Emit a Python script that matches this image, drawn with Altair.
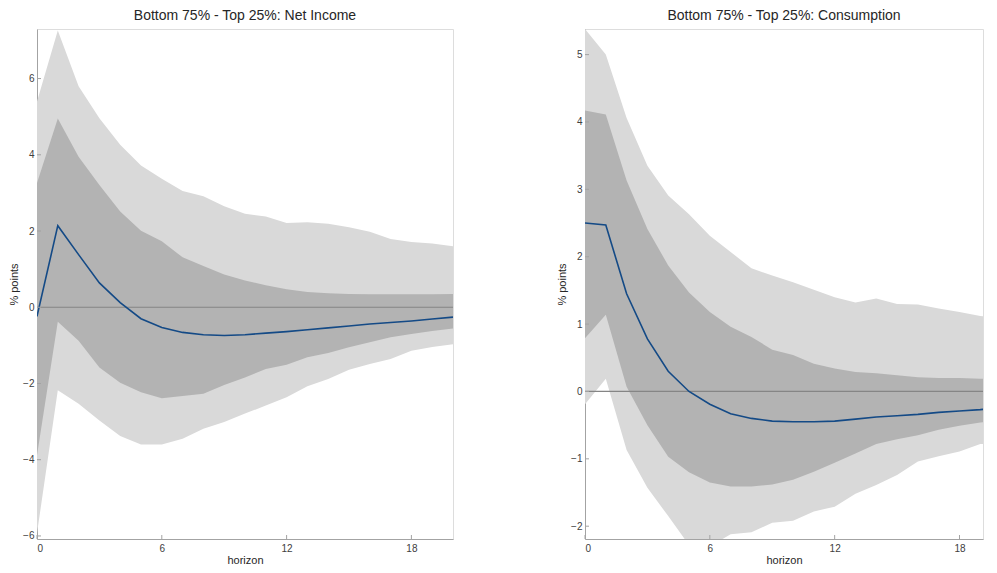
import altair as alt
import pandas as pd

# ---------------- data ----------------
horizon = list(range(0, 21))

# Net Income panel
ni_median = [-0.24, 2.14, 1.38, 0.64, 0.12, -0.30, -0.53, -0.66, -0.72, -0.74, -0.72,
             -0.68, -0.64, -0.59, -0.54, -0.49, -0.44, -0.40, -0.36, -0.31, -0.26]
ni_hi68 = [3.26, 4.95, 3.95, 3.21, 2.51, 2.01, 1.73, 1.31, 1.08, 0.86, 0.70,
           0.58, 0.47, 0.40, 0.37, 0.35, 0.34, 0.34, 0.34, 0.34, 0.35]
ni_lo68 = [-3.88, -0.38, -0.88, -1.58, -1.98, -2.23, -2.39, -2.33, -2.27, -2.04, -1.84,
           -1.62, -1.51, -1.31, -1.20, -1.05, -0.92, -0.79, -0.70, -0.62, -0.56]
ni_hi90 = [5.40, 7.26, 5.80, 4.96, 4.26, 3.72, 3.37, 3.05, 2.91, 2.65, 2.45,
           2.38, 2.21, 2.23, 2.19, 2.10, 1.98, 1.79, 1.71, 1.67, 1.60]
ni_lo90 = [-5.93, -2.18, -2.53, -2.97, -3.38, -3.60, -3.60, -3.45, -3.19, -3.01, -2.79,
           -2.58, -2.36, -2.07, -1.88, -1.64, -1.49, -1.36, -1.14, -1.04, -0.97]

# Consumption panel
c_median = [2.50, 2.47, 1.45, 0.78, 0.30, 0.00, -0.19, -0.33, -0.40, -0.44, -0.45,
            -0.45, -0.44, -0.41, -0.38, -0.36, -0.34, -0.31, -0.29, -0.27, -0.24]
c_hi68 = [4.17, 4.11, 3.13, 2.41, 1.87, 1.47, 1.18, 0.96, 0.81, 0.62, 0.54,
          0.41, 0.34, 0.29, 0.27, 0.24, 0.21, 0.20, 0.20, 0.19, 0.19]
c_lo68 = [0.79, 1.14, 0.07, -0.50, -0.97, -1.20, -1.35, -1.41, -1.41, -1.38, -1.31,
          -1.19, -1.06, -0.92, -0.78, -0.71, -0.65, -0.57, -0.51, -0.46, -0.44]
c_hi90 = [5.38, 5.00, 4.06, 3.35, 2.91, 2.63, 2.31, 2.07, 1.83, 1.72, 1.62,
          1.51, 1.40, 1.32, 1.38, 1.30, 1.29, 1.23, 1.18, 1.12, 1.08]
c_lo90 = [-0.19, 0.19, -0.87, -1.43, -1.85, -2.28, -2.30, -2.12, -2.09, -1.95, -1.92,
          -1.78, -1.71, -1.52, -1.39, -1.24, -1.04, -0.96, -0.89, -0.78, -0.77]

titles = ["Bottom 75% - Top 25%: Net Income", "Bottom 75% - Top 25%: Consumption"]
x_ticks = [0, 6, 12, 18]
ni_y_ticks = [-6, -4, -2, 0, 2, 4, 6]
c_y_ticks = [-2, -1, 0, 1, 2, 3, 4, 5]

FONT = "Liberation Sans"
LIGHT = "#d9d9d9"
DARK = "#b3b3b3"
LINE = "#144a86"
AXIS = "#a3a3a3"
H = 510


def panel(title, med, lo68, hi68, lo90, hi90, ydom, yticks, xdom, width):
    df = pd.DataFrame({"h": horizon, "med": med, "lo68": lo68, "hi68": hi68,
                       "lo90": lo90, "hi90": hi90, "zero": [0.0] * len(horizon)})
    xs = alt.Scale(domain=xdom, nice=False, zero=False)
    ys = alt.Scale(domain=ydom, nice=False, zero=False)
    xax = alt.Axis(values=x_ticks, title="horizon", ticks=False, grid=False, format="d",
                   labelPadding=4, titlePadding=1, labelFontSize=10, titleFontSize=11,
                   labelColor="#404040", titleColor="#262626", domainColor=AXIS,
                   labelFont=FONT, titleFont=FONT, titleFontWeight="normal")
    yax = alt.Axis(values=yticks, title="% points", ticks=False, grid=False, format="d",
                   labelPadding=3, titlePadding=3, labelFontSize=10, titleFontSize=11,
                   labelColor="#404040", titleColor="#262626", domainColor=AXIS,
                   labelFont=FONT, titleFont=FONT, titleFontWeight="normal")
    base = alt.Chart(df)
    outer = base.mark_area(color=LIGHT, opacity=1, clip=True).encode(
        x=alt.X("h:Q", scale=xs, axis=xax), y=alt.Y("lo90:Q", scale=ys, axis=yax),
        y2="hi90:Q")
    inner = base.mark_area(color=DARK, opacity=1, clip=True).encode(
        x=alt.X("h:Q", scale=xs), y=alt.Y("lo68:Q", scale=ys), y2="hi68:Q")
    zero = base.mark_line(color="#858585", strokeWidth=1.2, clip=True).encode(
        x=alt.X("h:Q", scale=xs), y=alt.Y("zero:Q", scale=ys))
    line = base.mark_line(color=LINE, strokeWidth=1.6, clip=True).encode(
        x=alt.X("h:Q", scale=xs), y=alt.Y("med:Q", scale=ys))
    ytk = alt.Chart(pd.DataFrame({"v": yticks})).mark_rule(color=AXIS, strokeWidth=1).encode(
        y=alt.Y("v:Q", scale=ys), x=alt.value(0), x2=alt.value(4))
    xtk = alt.Chart(pd.DataFrame({"v": x_ticks})).mark_rule(color=AXIS, strokeWidth=1).encode(
        x=alt.X("v:Q", scale=xs), y=alt.value(H), y2=alt.value(H - 4))
    return alt.layer(outer, inner, zero, line, ytk, xtk).properties(
        width=width, height=H,
        title=alt.TitleParams(title, fontSize=14, font=FONT, fontWeight="normal",
                              color="#262626", offset=6, anchor="middle"))


left = panel(titles[0], ni_median, ni_lo68, ni_hi68, ni_lo90, ni_hi90,
             [-6.08, 7.3], ni_y_ticks, [0, 20], 416)
right = panel(titles[1], c_median, c_lo68, c_hi68, c_lo90, c_hi90,
              [-2.19, 5.38], c_y_ticks, [0, 19.13], 398)

chart = alt.hconcat(left, right, spacing=132, bounds="flush").properties(
    padding={"left": 0, "top": 0, "right": 0, "bottom": 0}
).configure_view(stroke=None).configure(background="white")

chart.save("out.html", embed_options={"renderer": "svg", "actions": False})
